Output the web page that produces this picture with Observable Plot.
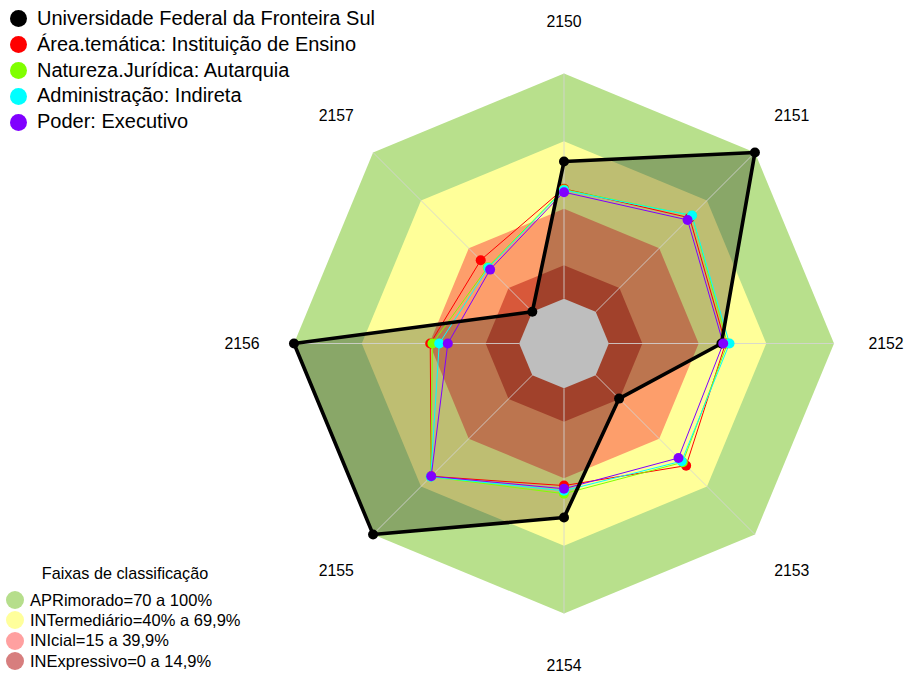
<!DOCTYPE html>
<html>
<head>
<meta charset="utf-8">
<script src="https://cdn.jsdelivr.net/npm/d3@7"></script>
<script src="https://cdn.jsdelivr.net/npm/@observablehq/plot@0.6"></script>
<style>
  html, body { margin: 0; padding: 0; background: #fff; }
  #wrap { position: relative; width: 907px; height: 675px; font-family: "Liberation Sans", Arial, sans-serif; }
  #chart svg { display: block; }
  .leg { position: absolute; color: #000; }
  .leg .row { display: flex; align-items: center; white-space: nowrap; }
  .leg .dot { border-radius: 50%; flex: none; }
  #legTop { left: 10px; top: 6px; font-size: 20px; line-height: 25.8px; }
  #legTop .dot { width: 17px; height: 17px; margin-right: 10px; }
  #legBot { left: 6px; top: 563px; font-size: 16.5px; line-height: 20.2px; }
  #legBot .title { width: 238px; text-align: center; font-size: 16.2px; margin-bottom: 7px; line-height: 20px; }
  #legBot .dot { width: 18px; height: 18px; margin-right: 6px; }
</style>
</head>
<body>
<div id="wrap">
  <div id="chart"></div>
  <div id="legTop" class="leg"></div>
  <div id="legBot" class="leg"></div>
</div>
<script>
// ---- data ----
const axes = ["2150", "2151", "2152", "2153", "2154", "2155", "2156", "2157"];
const seriesNames = [
  "Universidade Federal da Fronteira Sul",
  "Área.temática: Instituição de Ensino",
  "Natureza.Jurídica: Autarquia",
  "Administração: Indireta",
  "Poder: Executivo"
];
const seriesColors = ["#000000", "#ff0000", "#80ff00", "#00ffff", "#8000ff"];
const ufss = [60.9, 100, 50, 14.7, 57.4, 100, 100, 0];
const areaTematica = [48.8, 59, 51.8, 56.8, 43.2, 63.5, 39.5, 32.4];
const naturezaJuridica = [48.5, 60.5, 52.7, 54.7, 46.8, 63.8, 38.5, 28];
const administracao = [48.2, 60.5, 53.6, 54, 45.5, 63.8, 35.5, 27.6];
const poder = [47.3, 57.7, 50.8, 52, 44.6, 63.5, 31.7, 26.5];

const bandNames = ["APRimorado=70 a 100%", "INTermediário=40% a 69,9%", "INIcial=15 a 39,9%", "INExpressivo=0 a 14,9%"];
const bandMax = [100, 69.9, 39.9, 14.9];
const bandColors = ["#b8e08c", "#ffff99", "#fd9e6b", "#d8583a"];
const bandLegendColors = ["#b6de8c", "#ffff9c", "#ffa0a0", "#d77e7e"];
const legendTitle = "Faixas de classificação";

(function () {
// ---- geometry in value units ----
const hole = 19.9;        // inner offset of the radial scale
const labelAt = 123.1;    // value-units position of the axis labels
const rr = v => v + hole;
const ang = i => i * Math.PI / 4;
const pt = (v, i) => ({x: rr(v) * Math.sin(ang(i)), y: rr(v) * Math.cos(ang(i))});
const poly = (vals, extra = {}) => vals.map((v, i) => ({...pt(v, i), ...extra}));

const bands = bandMax.map((m, b) => poly(axes.map(() => m), {band: b}));
const holePoly = poly(axes.map(() => 0));
const spokes = axes.map((a, i) => {
  const p0 = pt(0, i), p1 = pt(100, i);
  return {x1: p0.x, y1: p0.y, x2: p1.x, y2: p1.y};
});
const labels = axes.map((a, i) => ({...pt(labelAt, i), label: a}));

const seriesVals = [ufss, areaTematica, naturezaJuridica, administracao, poder];
const seriesPts = seriesVals.map((vals, s) => poly(vals, {s}));

const marks = [];
bands.forEach((d, b) => marks.push(Plot.line(d, {x: "x", y: "y", curve: "linear-closed", fill: bandColors[b], stroke: "none"})));
marks.push(Plot.line(seriesPts[0], {x: "x", y: "y", curve: "linear-closed", fill: "#000", fillOpacity: 0.255, stroke: "none"}));
marks.push(Plot.line(holePoly, {x: "x", y: "y", curve: "linear-closed", fill: "#bebebe", stroke: "none"}));
marks.push(Plot.link(spokes, {x1: "x1", y1: "y1", x2: "x2", y2: "y2", stroke: "#d4d4d4", strokeWidth: 1, strokeOpacity: 0.85}));
for (let s = 1; s < 5; s++) {
  marks.push(Plot.line(seriesPts[s], {x: "x", y: "y", curve: "linear-closed", stroke: seriesColors[s], strokeWidth: 1}));
}
marks.push(Plot.line(seriesPts[0], {x: "x", y: "y", curve: "linear-closed", stroke: "#000", strokeWidth: 3.6, strokeLinejoin: "round"}));
for (let s = 0; s < 5; s++) {
  marks.push(Plot.dot(seriesPts[s], {x: "x", y: "y", r: 5, fill: seriesColors[s], stroke: "none"}));
}
marks.push(Plot.text(labels, {x: "x", y: "y", text: "label", fontSize: 15.8, fill: "#000"}));

const k = 2.252; // px per value unit
const cx = 563.5, cy = 343;
const chart = Plot.plot({
  width: 907,
  height: 675,
  margin: 0,
  x: {domain: [-cx / k, (907 - cx) / k], range: [0, 907], axis: null},
  y: {domain: [-(675 - cy) / k, cy / k], range: [675, 0], axis: null},
  style: {fontFamily: "'Liberation Sans', Arial, sans-serif", background: "#fff"},
  marks
});
document.getElementById("chart").appendChild(chart);

// ---- legends ----
const legTop = document.getElementById("legTop");
seriesNames.forEach((n, i) => {
  const row = document.createElement("div");
  row.className = "row";
  row.innerHTML = `<span class="dot" style="background:${seriesColors[i]}"></span><span>${n}</span>`;
  legTop.appendChild(row);
});
const legBot = document.getElementById("legBot");
const t = document.createElement("div");
t.className = "title";
t.textContent = legendTitle;
legBot.appendChild(t);
bandNames.forEach((n, i) => {
  const row = document.createElement("div");
  row.className = "row";
  row.innerHTML = `<span class="dot" style="background:${bandLegendColors[i]}"></span><span>${n}</span>`;
  legBot.appendChild(row);
});
})();
</script>
</body>
</html>
